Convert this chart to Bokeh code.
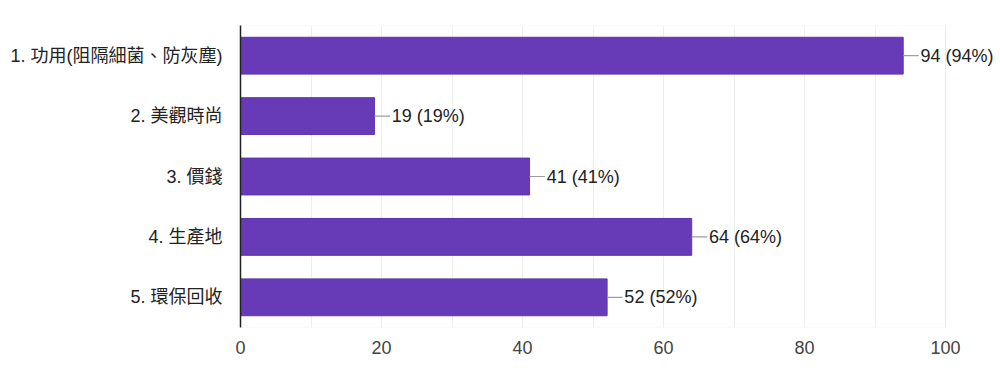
from bokeh.plotting import figure
from bokeh.models import ColumnDataSource, SingleIntervalTicker, FixedTicker, Range1d, BoxAnnotation
from bokeh.core.properties import value
from bokeh.embed import file_html
from bokeh.resources import INLINE

categories = ["1. 功用(阻隔細菌、防灰塵)", "2. 美觀時尚", "3. 價錢", "4. 生產地", "5. 環保回收"]
counts = [94, 19, 41, 64, 52]
percents = [94, 19, 41, 64, 52]
x_ticks = [0, 20, 40, 60, 80, 100]

labels = [f"{c} ({p}%)" for c, p in zip(counts, percents)]
lead = 2.2
src = ColumnDataSource(dict(
    cat=categories, val=counts,
    lead_end=[v + lead for v in counts],
    text_x=[v + lead + 0.25 for v in counts],
    label=labels,
))

W, H = 1000, 374
left_b, top_b, bot_b = 240, 25, 47
axis_px = 705  # pixel length of 0..100
x_end = 100 * (W - left_b) / axis_px

p = figure(width=W, height=H, output_backend="svg", toolbar_location=None,
           y_range=list(reversed(categories)), x_range=Range1d(0, x_end),
           min_border_left=left_b, min_border_right=0, min_border_top=top_b, min_border_bottom=bot_b)

p.outline_line_color = None
p.xgrid.ticker = SingleIntervalTicker(interval=10)
p.xgrid.grid_line_color = "#eeeeee"
p.xgrid.grid_line_width = 1
p.xgrid.bounds = (0, 100)
p.ygrid.grid_line_color = None
p.add_layout(BoxAnnotation(left=0, right=100, fill_alpha=0, line_color="#e0e0e0",
                           line_width=1, level="underlay"))

p.hbar(y="cat", right="val", left=0, height=0.61, source=src,
       fill_color="#673ab7", line_color="#5e35b1", line_width=1)
p.segment(x0="val", y0="cat", x1="lead_end", y1="cat", source=src,
          line_color="#9e9e9e", line_width=1.2)
p.text(x="text_x", y="cat", text="label", source=src,
       text_baseline="middle", text_align="left", text_font_size="18px",
       text_font=value("Liberation Sans"), text_color="#222222")

xa = p.xaxis[0]
xa.ticker = FixedTicker(ticks=x_ticks)
xa.axis_line_color = None
xa.major_tick_line_color = None
xa.minor_tick_line_color = None
xa.major_tick_out = 0
xa.major_label_standoff = 13
xa.major_label_text_font = "Liberation Sans"
xa.major_label_text_font_size = "18px"
xa.major_label_text_color = "#444444"

ya = p.yaxis[0]
ya.axis_line_color = "#222222"
ya.axis_line_width = 1.5
ya.major_tick_line_color = None
ya.minor_tick_line_color = None
ya.major_tick_out = 0
ya.major_label_standoff = 18
ya.major_label_text_font = "Liberation Sans, Noto Sans CJK TC"
ya.major_label_text_font_size = "18px"
ya.major_label_text_color = "#222222"

open("out.html", "w").write(file_html(p, INLINE))
